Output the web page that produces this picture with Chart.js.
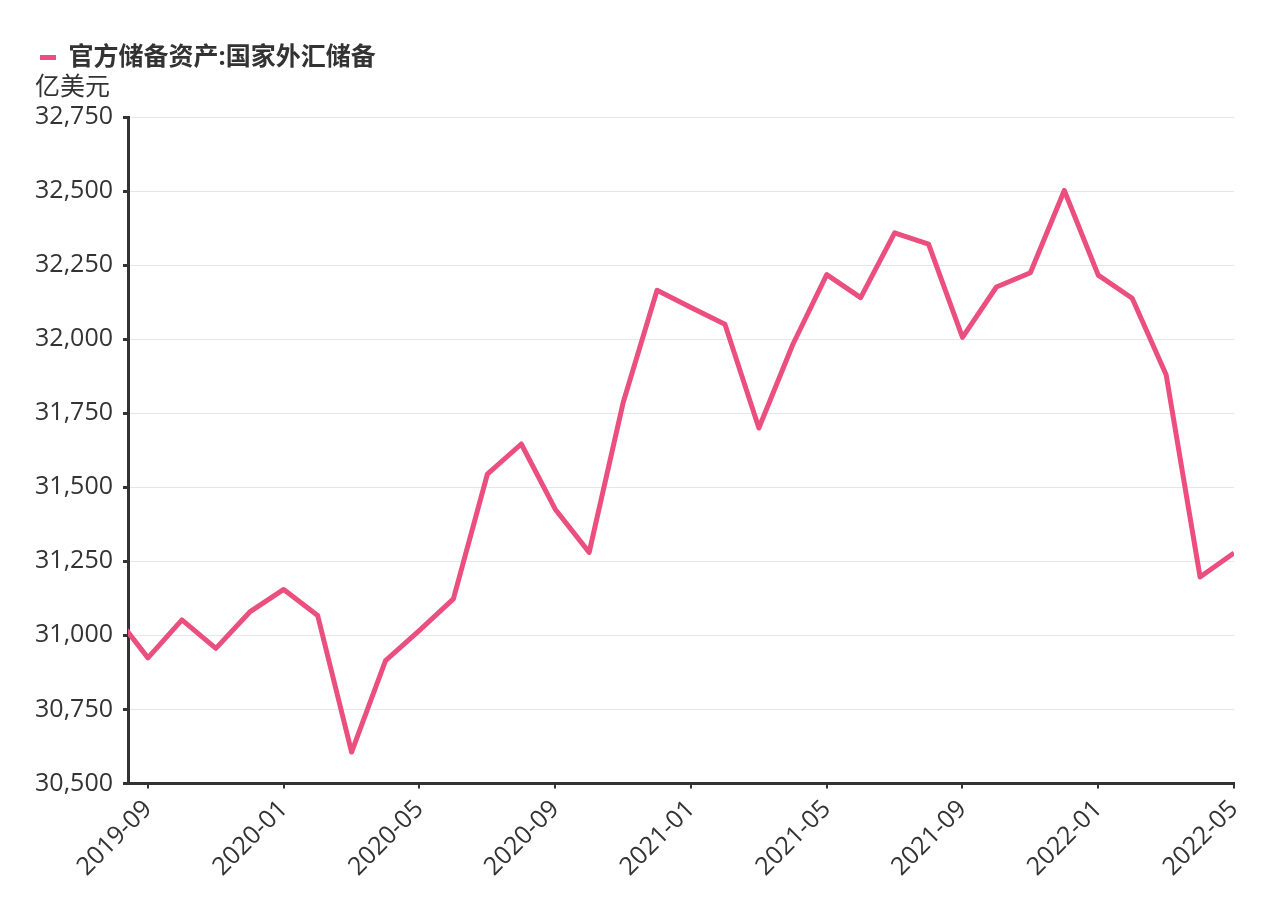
<!DOCTYPE html>
<html>
<head>
<meta charset="utf-8">
<script src="https://cdn.jsdelivr.net/npm/chart.js@4.4.0/dist/chart.umd.min.js"></script>
<style>
  html, body { margin: 0; padding: 0; background: #fff; }
  #wrap { width: 1265px; height: 922px; }
</style>
</head>
<body>
<div id="wrap"><canvas id="fxChart" width="1265" height="922"></canvas></div>
<script>
const months = ['2019-08','2019-09','2019-10','2019-11','2019-12','2020-01','2020-02','2020-03','2020-04','2020-05','2020-06','2020-07',
  '2020-08','2020-09','2020-10','2020-11','2020-12','2021-01','2021-02','2021-03','2021-04','2021-05','2021-06','2021-07',
  '2021-08','2021-09','2021-10','2021-11','2021-12','2022-01','2022-02','2022-03','2022-04','2022-05'];
const reserves = [31072, 30924, 31052, 30956, 31079, 31155, 31067, 30606, 30915, 31017, 31123, 31544,
  31646, 31426, 31280, 31785, 32165, 32107, 32050, 31700, 31982, 32218, 32140, 32359,
  32321, 32006, 32176, 32224, 32502, 32216, 32138, 31880, 31197, 31278];
const tickMonths = ['2019-09','2020-01','2020-05','2020-09','2021-01','2021-05','2021-09','2022-01','2022-05'];
const yTicks = [30500, 30750, 31000, 31250, 31500, 31750, 32000, 32250, 32500, 32750];
const seriesName = '官方储备资产:国家外汇储备';
const unitLabel = '亿美元';

const FONT = '"Open Sans", "Noto Sans CJK SC", sans-serif';
const PINK = '#eb4f7f';
const TEXT = '#333333';

// fixed legend height so the plot starts lower, leaving room for the unit label
const legendHeightPlugin = {
  id: 'legendHeight',
  afterInit(chart) {
    const lg = chart.legend;
    if (!lg) return;
    const fit = lg.fit;
    lg.fit = function () { fit.call(this); this.height = 82; };
  }
};

const unitPlugin = {
  id: 'unitLabel',
  afterDraw(chart) {
    const c = chart.ctx;
    c.save();
    c.font = '25px ' + FONT;
    c.fillStyle = TEXT;
    c.textAlign = 'left';
    c.textBaseline = 'alphabetic';
    c.fillText(unitLabel, 35, 95);
    c.restore();
  }
};

const points = reserves.map((v, i) => ({ x: i, y: v }));

new Chart(document.getElementById('fxChart'), {
  type: 'line',
  data: {
    datasets: [{
      label: seriesName,
      data: points,
      borderColor: PINK,
      backgroundColor: PINK,
      borderWidth: 5,
      borderJoinStyle: 'round',
      pointRadius: 0,
      tension: 0,
      fill: false,
    }]
  },
  options: {
    responsive: false,
    animation: false,
    layout: { padding: { left: 30, right: 31, top: 35, bottom: 34 } },
    plugins: {
      tooltip: { enabled: false },
      legend: {
        display: true,
        position: 'top',
        align: 'start',
        labels: {
          color: TEXT,
          font: { family: FONT, size: 25, weight: 'bold' },
          boxWidth: 16,
          boxHeight: 5,
          padding: 10,
          generateLabels: chart => [{
            text: seriesName,
            fillStyle: PINK,
            strokeStyle: PINK,
            lineWidth: 0,
            hidden: false,
            datasetIndex: 0,
            fontColor: TEXT,
          }]
        }
      }
    },
    scales: {
      x: {
        type: 'linear',
        min: 1 - 20 / 34,
        max: months.length - 1,
        afterBuildTicks(scale) {
          scale.ticks = tickMonths.map(m => ({ value: months.indexOf(m) }));
        },
        ticks: {
          color: TEXT,
          font: { family: FONT, size: 25 },
          minRotation: 45,
          maxRotation: 45,
          padding: 6,
          callback: v => months[v] || '',
        },
        grid: { display: true, drawOnChartArea: false, drawTicks: true, tickLength: 5, color: '#333', lineWidth: 2 },
        border: { display: true, color: '#333', width: 3 },
      },
      y: {
        min: 30500,
        max: 32750,
        afterBuildTicks(scale) {
          scale.ticks = yTicks.map(v => ({ value: v }));
        },
        afterFit(scale) { scale.width = 98; },
        ticks: {
          color: TEXT,
          font: { family: FONT, size: 25 },
          padding: 10,
          callback: v => v.toLocaleString('en-US'),
        },
        grid: {
          color: '#e6e6e6',
          lineWidth: 1,
          tickLength: 5,
          tickColor: '#333',
          tickWidth: 3,
        },
        border: { display: true, color: '#333', width: 3 },
      }
    }
  },
  plugins: [legendHeightPlugin, unitPlugin]
});
</script>
</body>
</html>
